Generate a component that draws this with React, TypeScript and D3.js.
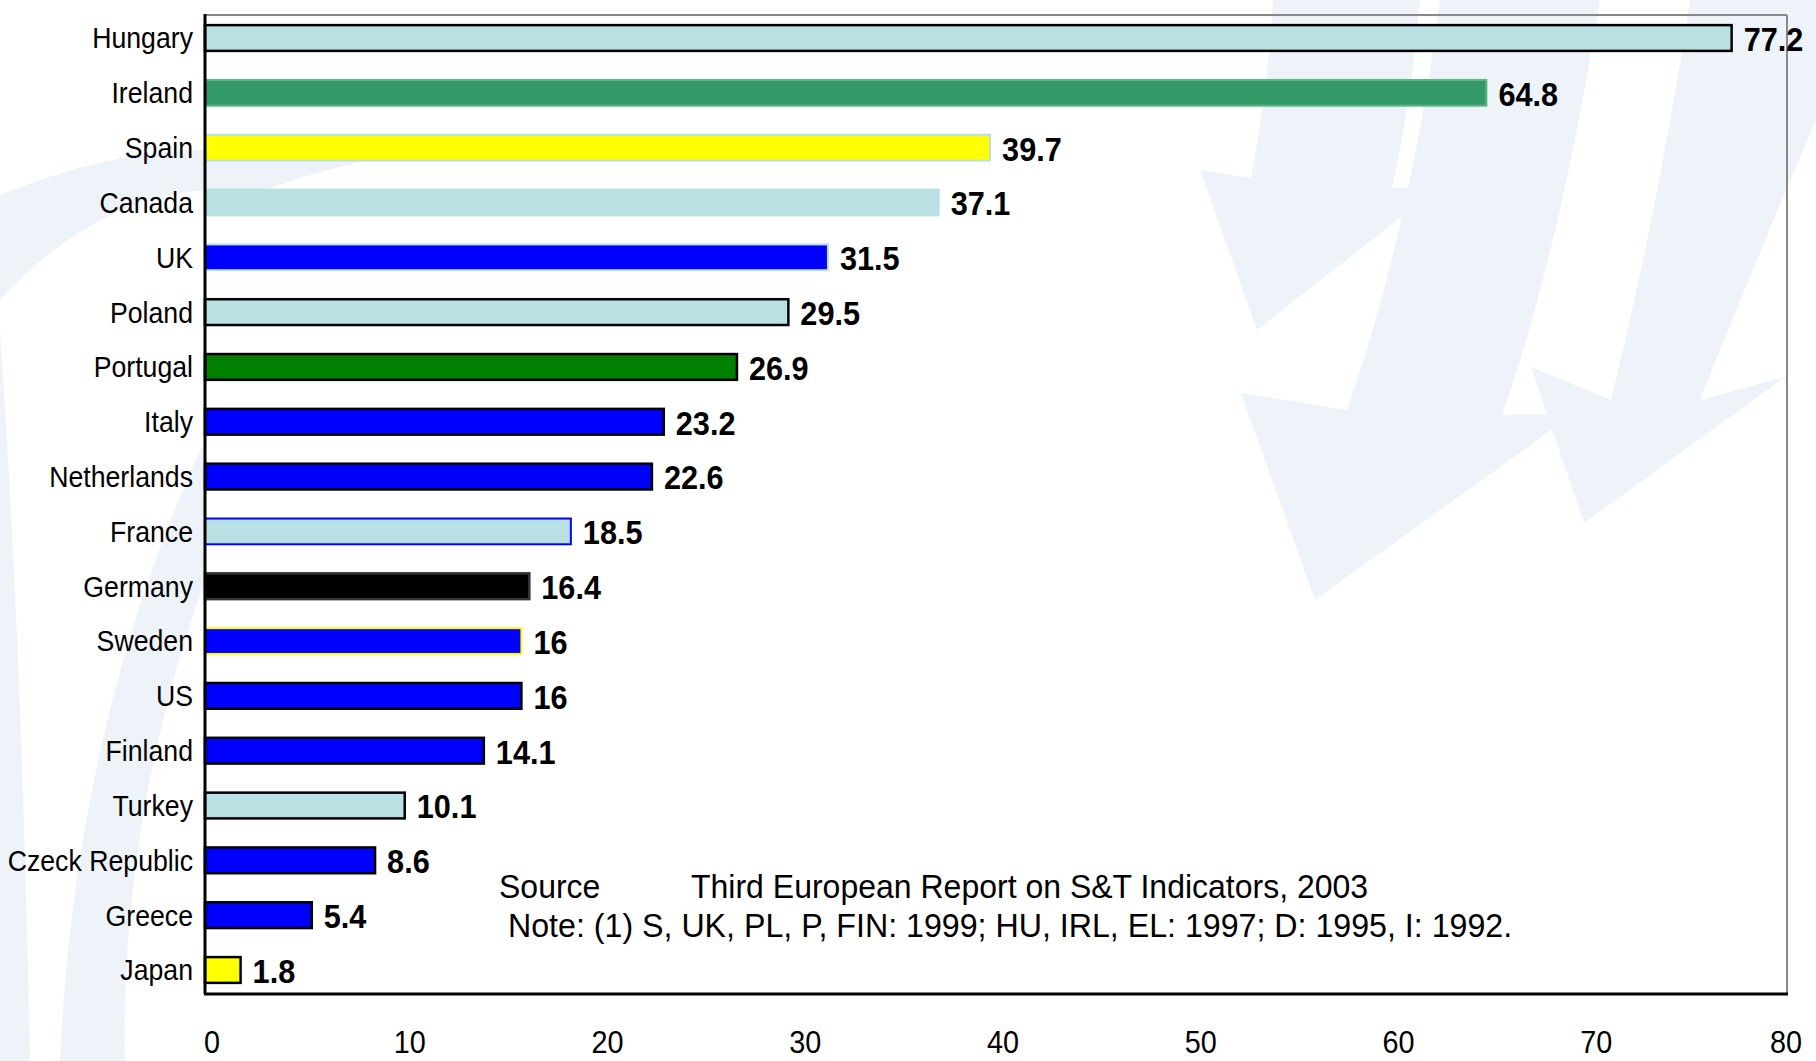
import React from "react";
import * as d3 from "d3";

const countries = [
  "Hungary", "Ireland", "Spain", "Canada", "UK", "Poland", "Portugal", "Italy", "Netherlands",
  "France", "Germany", "Sweden", "US", "Finland", "Turkey", "Czeck Republic", "Greece", "Japan",
];
const values = [77.2, 64.8, 39.7, 37.1, 31.5, 29.5, 26.9, 23.2, 22.6, 18.5, 16.4, 16, 16, 14.1, 10.1, 8.6, 5.4, 1.8];
const valueLabels = ["77.2", "64.8", "39.7", "37.1", "31.5", "29.5", "26.9", "23.2", "22.6", "18.5", "16.4", "16", "16", "14.1", "10.1", "8.6", "5.4", "1.8"];

const LB = "#b9e0e2";
const fills = [LB, "#339966", "#ffff00", LB, "#0000ff", LB, "#008000", "#0000ff", "#0000ff", LB, "#000000", "#0000ff", "#0000ff", "#0000ff", LB, "#0000ff", "#0000ff", "#ffff00"];
const strokes = ["#000", "#5cb888", LB, LB, LB, "#000", "#000", "#000", "#000", "#0000ff", "#333", "#ffff00", "#000", "#000", "#000", "#000", "#000", "#000"];

const xTicks = [0, 10, 20, 30, 40, 50, 60, 70, 80];
const sourceLabel = "Source";
const sourceText = "Third European Report on S&T Indicators, 2003";
const noteText = "Note: (1) S, UK, PL, P, FIN: 1999; HU, IRL, EL: 1997; D: 1995, I: 1992.";

const W = 1816;
const H = 1061;
const plot = { left: 205, right: 1787, top: 15, bottom: 994 };
const font = "'Liberation Sans', Arial, sans-serif";
const wm = "#eef3f9";

function App() {
  const x = d3.scaleLinear().domain([0, 80]).range([plot.left, plot.right]);
  const y = d3
    .scaleBand()
    .domain(countries)
    .range([10.6, 997.4])
    .paddingInner(0.53)
    .paddingOuter(0.265);

  return (
    <div style={{ position: "absolute", left: 0, top: 0 }}>
      <svg width={W} height={H} style={{ display: "block", background: "#fff" }}>
        {/* watermark swooshes */}
        <g fill={wm}>
          <path d="M0,195 Q110,150 205,150 L205,190 Q90,200 0,300 Z" />
          <path d="M0,330 Q22,650 30,1061 L0,1061 Z" />
          <path d="M60,1061 Q75,720 205,440 L205,580 Q120,820 125,1061 Z" />
          <path d="M205,160 Q330,140 420,150 Q300,170 205,215 Z" />
          <path d="M1273,0 L1420,0 Q1410,110 1392,188 L1438,188 L1257,330 L1200,170 L1251,178 Q1268,90 1273,0 Z" />
          <path d="M1440,0 L1600,0 Q1560,250 1502,415 L1575,413 L1315,600 L1241,393 L1347,410 Q1410,230 1440,0 Z" />
          <path d="M1690,0 L1816,0 L1816,120 Q1760,250 1700,400 L1785,377 L1584,523 L1531,367 L1611,400 Q1660,200 1690,0 Z" />
        </g>

        {/* frame */}
        <line x1={plot.left} x2={plot.right} y1={plot.top} y2={plot.top} stroke="#888" strokeWidth={2} />
        <line x1={plot.right} x2={plot.right} y1={plot.top} y2={plot.bottom} stroke="#888" strokeWidth={2} />

        {/* bars */}
        {countries.map((c, i) => (
          <rect
            key={c}
            x={x(0)}
            y={y(c)}
            width={x(values[i]) - x(0)}
            height={y.bandwidth()}
            fill={fills[i]}
            stroke={strokes[i]}
            strokeWidth={strokes[i] === "#000" || strokes[i] === "#333" ? 2.5 : 2}
          />
        ))}

        {/* axes */}
        <line x1={plot.left} x2={plot.left} y1={plot.top - 1} y2={plot.bottom} stroke="#000" strokeWidth={3} />
        <line x1={plot.left - 1} x2={plot.right + 1} y1={plot.bottom} y2={plot.bottom} stroke="#000" strokeWidth={3} />

        {/* category labels */}
        {countries.map((c) => (
          <text
            key={c}
            transform={`translate(${plot.left - 12},${(y(c) as number) + y.bandwidth() / 2}) scale(0.92,1)`}
            dy="0.36em"
            textAnchor="end"
            fontFamily={font}
            fontSize={29}
            fill="#000"
          >
            {c}
          </text>
        ))}

        {/* value labels */}
        {countries.map((c, i) => (
          <text
            key={c}
            transform={`translate(${x(values[i]) + 12},${(y(c) as number) + y.bandwidth() / 2 + 1}) scale(0.93,1)`}
            dy="0.36em"
            fontFamily={font}
            fontWeight="bold"
            fontSize={33}
            fill="#000"
          >
            {valueLabels[i]}
          </text>
        ))}

        {/* x tick labels */}
        {xTicks.map((t) => (
          <text
            key={t}
            transform={`translate(${Math.min(x(t) + 7, 1786)},1053) scale(0.9,1)`}
            textAnchor="middle"
            fontFamily={font}
            fontSize={32}
            fill="#000"
          >
            {t}
          </text>
        ))}

        {/* source note */}
        <g fontFamily={font} fontSize={33} fill="#000">
          <text transform="translate(499,898) scale(0.97,1)">{sourceLabel}</text>
          <text transform="translate(691,898) scale(0.97,1)">{sourceText}</text>
          <text transform="translate(508,937) scale(0.975,1)">{noteText}</text>
        </g>
      </svg>
    </div>
  );
}

export default App;
